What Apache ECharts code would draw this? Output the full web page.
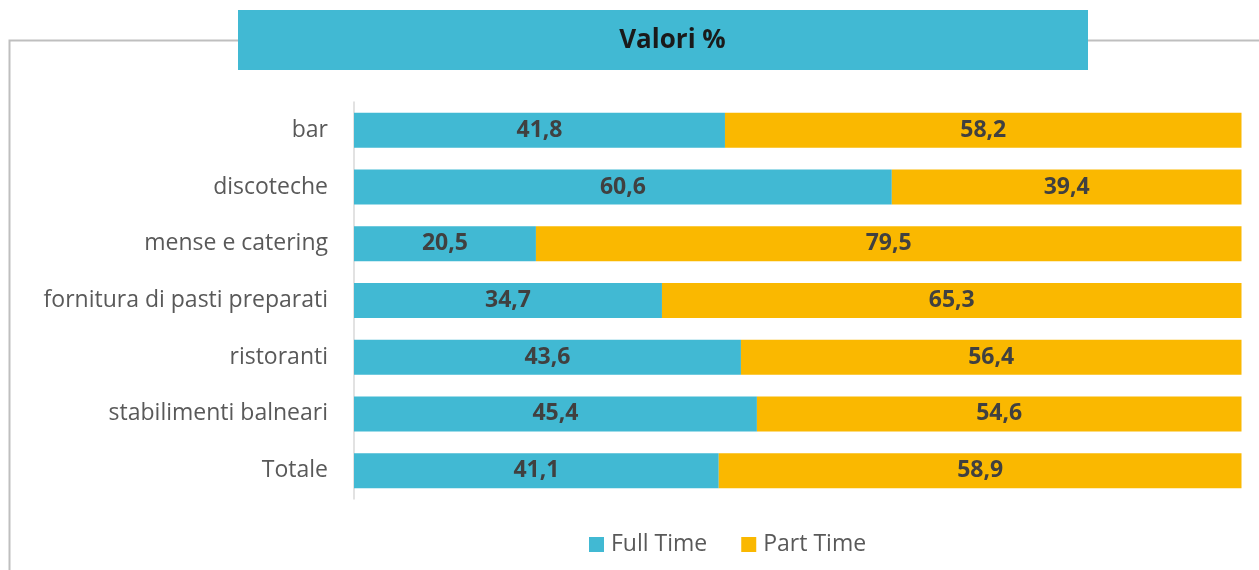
<!DOCTYPE html>
<html>
<head>
<meta charset="utf-8">
<script src="https://cdn.jsdelivr.net/npm/echarts@6/dist/echarts.min.js"></script>
<style>
html,body{margin:0;padding:0;background:#fff;}
#chart{width:1259px;height:570px;}
</style>
</head>
<body>
<div id="chart"></div>
<script>
const categories = ['bar', 'discoteche', 'mense e catering', 'fornitura di pasti preparati', 'ristoranti', 'stabilimenti balneari', 'Totale'];
const fullTime = [41.8, 60.6, 20.5, 34.7, 43.6, 45.4, 41.1];
const partTime = [58.2, 39.4, 79.5, 65.3, 56.4, 54.6, 58.9];
const seriesNames = ['Full Time', 'Part Time'];
const titleText = 'Valori %';

const FONT = '"Open Sans", "Noto Sans", sans-serif';
const chart = echarts.init(document.getElementById('chart'), null, {renderer: 'canvas'});
const labelOpt = {
  show: true,
  position: 'inside',
  fontFamily: FONT,
  fontSize: 23,
  fontWeight: 'bold',
  color: '#404040',
  formatter: p => String(p.value).replace('.', ',')
};
chart.setOption({
  animation: false,
  graphic: [
    {type: 'polyline', z: 0, shape: {points: [[9.5, 570], [9.5, 40.5], [1262, 40.5]]}, style: {stroke: '#bfbfbf', lineWidth: 2, fill: null}},
    {type: 'rect', z: 1, shape: {x: 238, y: 10, width: 850, height: 60}, style: {fill: '#41B9D3'}},
    {type: 'text', z: 2, x: 672.5, y: 41, style: {text: titleText, font: 'bold 26px ' + FONT, fill: '#1a1a1a', align: 'center', verticalAlign: 'middle'}}
  ],
  grid: {left: 354, right: 17.5, top: 102, height: 397, containLabel: false},
  legend: {
    data: seriesNames,
    top: 528,
    left: 584,
    icon: 'rect',
    itemWidth: 15,
    itemHeight: 15,
    itemGap: 34,
    textStyle: {fontFamily: FONT, fontSize: 23, color: '#595959', padding: [0, 0, 0, 2]}
  },
  xAxis: {
    type: 'value', min: 0, max: 100,
    show: false
  },
  yAxis: {
    type: 'category',
    data: categories,
    inverse: true,
    axisLine: {show: true, lineStyle: {color: '#d9d9d9', width: 1.5}},
    axisTick: {show: false},
    axisLabel: {fontFamily: FONT, fontSize: 23, color: '#595959', margin: 26}
  },
  series: [
    {name: seriesNames[0], type: 'bar', stack: 'tot', data: fullTime, barWidth: 35, itemStyle: {color: '#41B9D3'}, label: labelOpt},
    {name: seriesNames[1], type: 'bar', stack: 'tot', data: partTime, barWidth: 35, itemStyle: {color: '#FAB800'}, label: labelOpt}
  ]
});
</script>
</body>
</html>
